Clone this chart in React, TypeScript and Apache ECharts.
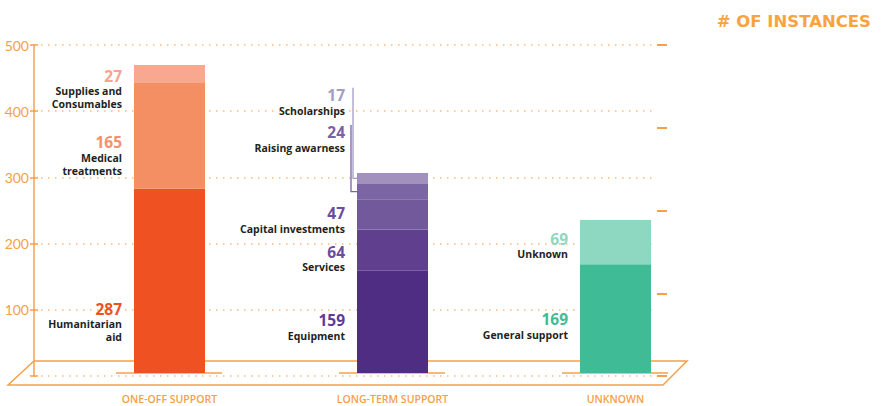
import React, { useEffect, useRef } from "react";
import * as echarts from "echarts";

// ---- data ----
const categories = ["ONE-OFF SUPPORT", "LONG-TERM SUPPORT", "UNKNOWN"];
const oneOffValues = [287, 165, 27];
const oneOffNames = ["Humanitarian\naid", "Medical\ntreatments", "Supplies and\nConsumables"];
const longTermValues = [159, 64, 47, 24, 17];
const longTermNames = ["Equipment", "Services", "Capital investments", "Raising awarness", "Scholarships"];
const unknownValues = [169, 69];
const unknownNames = ["General support", "Unknown"];
const leftTickValues = [0, 100, 200, 300, 400, 500];
const titleText = "# OF INSTANCES";

// ---- styles ----
const ORANGE = "#f7a048";
const oneOffColors = ["#f05123", "#f48f63", "#f7a88f"];
const oneOffLabelColors = ["#f05123", "#f4916a", "#f7a48c"];
const longTermColors = ["#4f2d82", "#603f8f", "#71599c", "#7b65a3", "#a391bd"];
const longTermLabelColors = ["#5b3d95", "#6a4c9c", "#6a4c9c", "#7a62a6", "#a49cc6"];
const unknownColors = ["#3fbc96", "#8ed7c1"];
const unknownLabelColors = ["#3fbc96", "#8ed7c1"];
const oneOffLabelDy = [41, 20, 15];
const longTermLabelDy = [5, 8, 5, -53, -77];
const unknownLabelDy = [7, 3];
const NUM_LH = 18.5;
const NAME_LH = 13;
const BAR_W = 71;

const groups = [
  { values: oneOffValues, names: oneOffNames, colors: oneOffColors, labelColors: oneOffLabelColors, dy: oneOffLabelDy },
  { values: longTermValues, names: longTermNames, colors: longTermColors, labelColors: longTermLabelColors, dy: longTermLabelDy },
  { values: unknownValues, names: unknownNames, colors: unknownColors, labelColors: unknownLabelColors, dy: unknownLabelDy },
];

const FONT = "Open Sans";

export default function App() {
  const ref = useRef<HTMLDivElement>(null);
  useEffect(() => {
    if (!ref.current) return;
    const chart = echarts.init(ref.current, undefined, { renderer: "svg" });
    const layers = Math.max(...groups.map((g) => g.values.length));
    const series: any[] = [];
    for (let i = 0; i < layers; i++) {
      series.push({
        type: "bar",
        stack: "total",
        xAxisIndex: 1,
        yAxisIndex: 2,
        barWidth: BAR_W,
        z: 3,
        data: groups.map((g) => {
          if (i >= g.values.length) return "-";
          const lines = g.names[i].split("\n");
          return {
            value: g.values[i],
            itemStyle: { color: g.colors[i] },
            label: {
              show: true,
              position: "left",
              distance: 12,
              offset: [0, g.dy[i]],
              formatter: () => `{n|${g.values[i]}}\n` + lines.map((l) => `{t|${l}}`).join("\n"),
              rich: {
                n: { fontFamily: FONT, fontSize: 15.5, fontWeight: "bold", lineHeight: NUM_LH, color: g.labelColors[i], align: "right" },
                t: { fontFamily: FONT, fontSize: 10.5, fontWeight: "bold", lineHeight: NAME_LH, color: "#231f20", align: "right" },
              },
            },
          };
        }),
      });
    }

    const option: any = {
      animation: false,
      title: {
        text: titleText,
        right: 5,
        top: 8,
        textStyle: { fontFamily: "DejaVu Sans", fontSize: 16.5, fontWeight: "bold", color: "#f9a33f" },
      },
      grid: [
        { left: 34, right: 224, top: 45, bottom: 30 },
        { left: 58, right: 154, top: 45, bottom: 33 },
      ],
      xAxis: [
        { type: "value", gridIndex: 0, show: false },
        {
          type: "category",
          gridIndex: 1,
          data: categories,
          axisLine: { show: false },
          axisTick: { show: false },
          axisLabel: { margin: 20, fontFamily: FONT, fontSize: 10.5, fontWeight: 600, color: ORANGE },
        },
      ],
      yAxis: [
        {
          type: "value",
          gridIndex: 0,
          position: "left",
          min: leftTickValues[0],
          max: leftTickValues[leftTickValues.length - 1],
          interval: 100,
          axisLine: { show: true, lineStyle: { color: ORANGE, width: 1.5 } },
          axisTick: { show: true, length: 4, lineStyle: { color: ORANGE, width: 1.5 } },
          axisLabel: {
            margin: 5,
            fontFamily: "Lato",
            fontSize: 14,
            color: ORANGE,
            formatter: (v: number) => (v === 0 ? "" : String(v)),
          },
          splitLine: { show: true, lineStyle: { color: "#fbb97c", width: 1.5, type: [1.5, 5.5] } },
        },
        {
          type: "value",
          gridIndex: 0,
          position: "left",
          min: leftTickValues[0],
          max: leftTickValues[leftTickValues.length - 1],
          interval: 100,
          axisLine: { show: false },
          axisTick: { show: true, inside: true, length: 4, lineStyle: { color: ORANGE, width: 1.5 } },
          axisLabel: { show: false },
          splitLine: { show: false },
        },
        { type: "value", gridIndex: 1, min: 0, max: 510, show: false, splitLine: { show: false } },
        {
          type: "value",
          gridIndex: 0,
          position: "right",
          min: 0,
          max: 4,
          interval: 1,
          axisLine: { show: false },
          axisTick: { show: true, length: 10, lineStyle: { color: ORANGE, width: 2 } },
          axisLabel: { show: false },
          splitLine: { show: false },
        },
      ],
      series,
    };
    chart.setOption(option);

    // decorations derived from the chart's own scales
    const graphics: any[] = [];
    const lineStyle = { stroke: ORANGE, lineWidth: 1.5, fill: null };
    const p0 = chart.convertToPixel({ seriesIndex: 0 }, [0, 0]) as number[];
    const p2 = chart.convertToPixel({ seriesIndex: 0 }, [2, 0]) as number[];
    const baseY = p0[1];
    const leftX = 34;
    const rightX = p2[0] + BAR_W / 2 + 36;
    // platform
    graphics.push({
      type: "polygon",
      z: 0,
      shape: {
        points: [
          [leftX - 26, baseY + 12],
          [leftX, baseY - 12],
          [rightX, baseY - 12],
          [rightX - 24, baseY + 12],
        ],
      },
      style: lineStyle,
    });
    // baseline shadows under each bar
    categories.forEach((_, c) => {
      const p = chart.convertToPixel({ seriesIndex: 0 }, [c, 0]) as number[];
      graphics.push({
        type: "line",
        z: 0,
        shape: { x1: p[0] - BAR_W / 2 - 18, y1: p[1], x2: p[0] + BAR_W / 2 + 17, y2: p[1] },
        style: { stroke: ORANGE, lineWidth: 1.5 },
      });
    });
    // connectors for small long-term segments
    const g = groups[1];
    let cum = 0;
    g.values.forEach((v, i) => {
      const mid = cum + v / 2;
      cum += v;
      if (i < 3) return;
      const p = chart.convertToPixel({ seriesIndex: 0 }, [1, mid]) as number[];
      const barLeft = p[0] - BAR_W / 2;
      const lines = g.names[i].split("\n").length;
      const H = NUM_LH + NAME_LH * lines;
      const top = p[1] + g.dy[i] - H / 2 + 2;
      const x = barLeft - (i === 4 ? 4 : 6);
      graphics.push({
        type: "polyline",
        z: 0,
        shape: { points: [[x, top], [x, p[1]], [barLeft, p[1]]] },
        style: { stroke: g.labelColors[i], lineWidth: 1.3, fill: null },
      });
    });
    chart.setOption({ graphic: graphics });

    return () => chart.dispose();
  }, []);
  return <div ref={ref} style={{ position: "absolute", left: 0, top: 0, width: 881, height: 406 }} />;
}
